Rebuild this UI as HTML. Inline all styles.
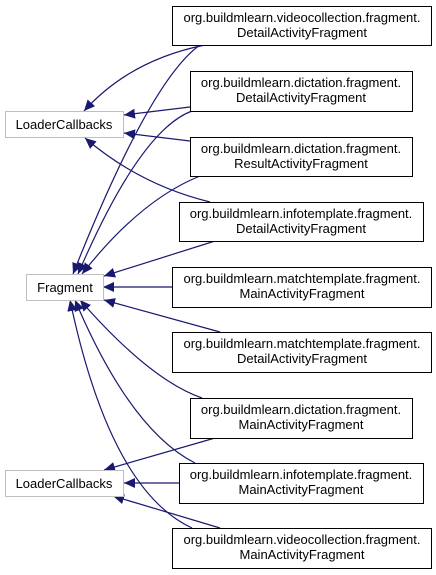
<!DOCTYPE html>
<html><head><meta charset="utf-8"><style>
html,body{margin:0;padding:0;background:#fff;width:436px;height:575px;overflow:hidden}
svg{display:block}
text{font-family:"Liberation Sans",sans-serif;font-size:13px;fill:#000}
</style></head><body>
<svg width="436" height="575" viewBox="0 0 436 575" xmlns="http://www.w3.org/2000/svg">
<defs>
<marker id="a" markerUnits="userSpaceOnUse" markerWidth="12" markerHeight="10" refX="11" refY="5" orient="auto">
<path d="M0,0 L11,5 L0,10 z" fill="#191970"/>
</marker>
</defs>
<g fill="none" stroke="#191970" stroke-width="1.2" marker-end="url(#a)">
<path d="M205,45 Q130,60 84,111"/>
<path d="M190,107 L124,115"/>
<path d="M190,141 L124,133"/>
<path d="M210,202 Q140,185 85,138"/>
<path d="M200,45 Q150,80 73,274"/>
<path d="M192,111 Q140,130 78,274"/>
<path d="M200,176 Q140,200 82,274"/>
<path d="M215,241 L104,276"/>
<path d="M172,287 L103,287"/>
<path d="M220,332 L104,300"/>
<path d="M202,398 Q150,380 80,300"/>
<path d="M195,463 Q130,430 75,300"/>
<path d="M192,528 Q110,490 70,300"/>
<path d="M215,438 L104,470"/>
<path d="M179,483 L124,483"/>
<path d="M220,528 L113,496"/>
</g>
<g fill="#fff" stroke="#bfbfbf" stroke-width="1">
<rect x="5.5" y="111.5" width="118" height="26"/>
<rect x="26.5" y="274.5" width="77" height="26"/>
<rect x="5.5" y="470.5" width="118" height="26"/>
</g>
<g fill="#fff" stroke="#000" stroke-width="1">
<rect x="172.5" y="6.5" width="259" height="39"/>
<rect x="190.5" y="71.5" width="222" height="40"/>
<rect x="190.5" y="137.5" width="222" height="39"/>
<rect x="179.5" y="202.5" width="244" height="39"/>
<rect x="172.5" y="267.5" width="259" height="40"/>
<rect x="172.5" y="332.5" width="259" height="40"/>
<rect x="190.5" y="398.5" width="222" height="40"/>
<rect x="179.5" y="463.5" width="244" height="40"/>
<rect x="172.5" y="528.5" width="259" height="40"/>
</g>
<g text-anchor="middle">
<text x="64" y="129">LoaderCallbacks</text>
<text x="65" y="292">Fragment</text>
<text x="64" y="488">LoaderCallbacks</text>
<text x="302" y="22">org.buildmlearn.videocollection.fragment.</text><text x="302" y="37">DetailActivityFragment</text>
<text x="301" y="87">org.buildmlearn.dictation.fragment.</text><text x="301" y="102">DetailActivityFragment</text>
<text x="301" y="153">org.buildmlearn.dictation.fragment.</text><text x="301" y="168">ResultActivityFragment</text>
<text x="301" y="218">org.buildmlearn.infotemplate.fragment.</text><text x="301" y="233">DetailActivityFragment</text>
<text x="302" y="283">org.buildmlearn.matchtemplate.fragment.</text><text x="302" y="298">MainActivityFragment</text>
<text x="302" y="348">org.buildmlearn.matchtemplate.fragment.</text><text x="302" y="363">DetailActivityFragment</text>
<text x="301" y="414">org.buildmlearn.dictation.fragment.</text><text x="301" y="429">MainActivityFragment</text>
<text x="301" y="479">org.buildmlearn.infotemplate.fragment.</text><text x="301" y="494">MainActivityFragment</text>
<text x="302" y="544">org.buildmlearn.videocollection.fragment.</text><text x="302" y="559">MainActivityFragment</text>
</g>
</svg>
</body></html>
